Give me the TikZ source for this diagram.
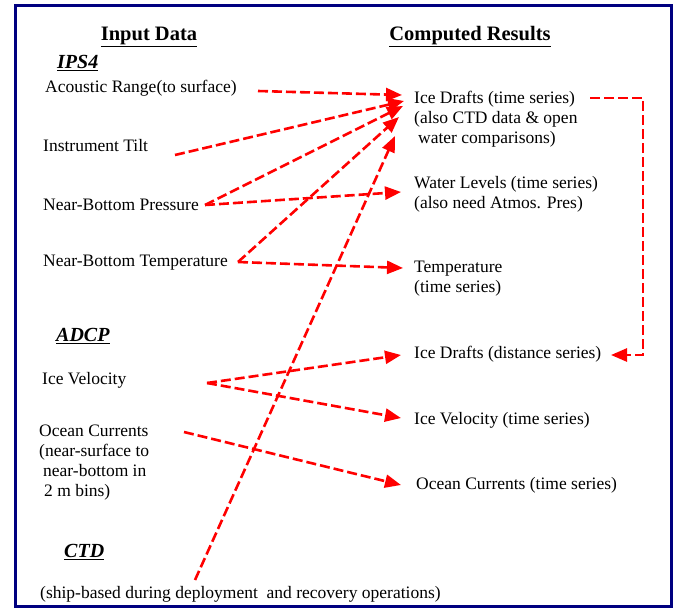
\documentclass[tikz,border=0pt]{standalone}
\usepackage{fontspec}
\setmainfont{Liberation Serif}
\usetikzlibrary{arrows.meta}
\definecolor{framenavy}{RGB}{0,0,128}
\definecolor{arrred}{RGB}{255,0,0}
\tikzset{
  txt/.style={anchor=west, inner sep=0pt, font=\fontsize{17.5}{20}\selectfont, align=left},
  head/.style={anchor=center, inner sep=0pt, font=\fontsize{20.5}{22}\selectfont\bfseries},
  grp/.style={anchor=west, inner sep=0pt, font=\fontsize{20}{22}\selectfont\bfseries\itshape},
  conn/.style={draw=arrred, line width=2.6pt, dash pattern=on 10pt off 4pt,
    -{Triangle[length=16pt,width=13pt]}, arrred},
}
\begin{document}
\begin{tikzpicture}[x=1pt,y=-1pt]
\useasboundingbox (0,0) rectangle (677,608);
\draw[framenavy, line width=3pt] (15.5,5.5) rectangle (671.5,606);

% headings
\node[head] (hin) at (149,37) {\underline{Input Data}};
\node[head] (hout) at (470,37) {\underline{Computed Results}};

% left column
\node[grp] (ips) at (57,63) {\underline{IPS4}};
\node[txt] (ac) at (45,88) {Acoustic Range(to surface)};
\node[txt] (tilt) at (43,146) {Instrument Tilt};
\node[txt] (pres) at (43,205) {Near-Bottom Pressure};
\node[txt] (temp) at (43,263) {Near-Bottom Temperature};
\node[grp] (adcp) at (56,336) {\underline{ADCP}};
\node[txt] (icev) at (42,380) {Ice Velocity};
\node[txt] (oc) at (39,462.5) {Ocean Currents\\(near-surface to\\\hspace*{4pt}near-bottom in\\\hspace*{5pt}2 m bins)};
\node[grp] (ctd) at (64,552) {\underline{CTD}};
\node[txt] (ship) at (40,594) {(ship-based during deployment\ \ and recovery operations)};

% right column
\node[txt] (idt) at (414,119.5) {Ice Drafts (time series)\\(also CTD data \& open\\\hspace*{4pt}water comparisons)};
\node[txt] (wl) at (414,194) {Water Levels (time series)\\(also need Atmos. Pres)};
\node[txt] (tr) at (414,278.5) {Temperature\\(time series)};
\node[txt] (idd) at (414,354) {Ice Drafts (distance series)};
\node[txt] (ivr) at (414,420) {Ice Velocity (time series)};
\node[txt] (ocr) at (416,485) {Ocean Currents (time series)};

% connector end points
\coordinate (acS) at (258,91);
\coordinate (tiltS) at (175,155);
\coordinate (presS) at (205,205);
\coordinate (tempS) at (238,262);
\coordinate (ctdS) at (195,580);
\coordinate (icevS) at (207,383);
\coordinate (ocS) at (184,432);
\coordinate (idA) at (402,95);
\coordinate (idB) at (404,101);
\coordinate (idC) at (403,106);
\coordinate (idD) at (399,117);
\coordinate (idE) at (395,136);
\coordinate (wlE) at (401,192);
\coordinate (trE) at (403,268);
\coordinate (iddE) at (401,355);
\coordinate (ivrE) at (401,418);
\coordinate (ocrE) at (401,485);
\coordinate (loopA) at (590,98);
\coordinate (loopB) at (643,98);
\coordinate (loopC) at (643,355);
\coordinate (loopD) at (611,355);

\draw[conn] (acS) -- (idA);
\draw[conn] (tiltS) -- (idB);
\draw[conn] (presS) -- (idC);
\draw[conn] (presS) -- (wlE);
\draw[conn] (tempS) -- (idD);
\draw[conn] (tempS) -- (trE);
\draw[conn] (ctdS) -- (idE);
\draw[conn] (icevS) -- (iddE);
\draw[conn] (icevS) -- (ivrE);
\draw[conn] (ocS) -- (ocrE);
\draw[conn] (loopA) -- (loopB) -- (loopC) -- (loopD);
\end{tikzpicture}
\end{document}
